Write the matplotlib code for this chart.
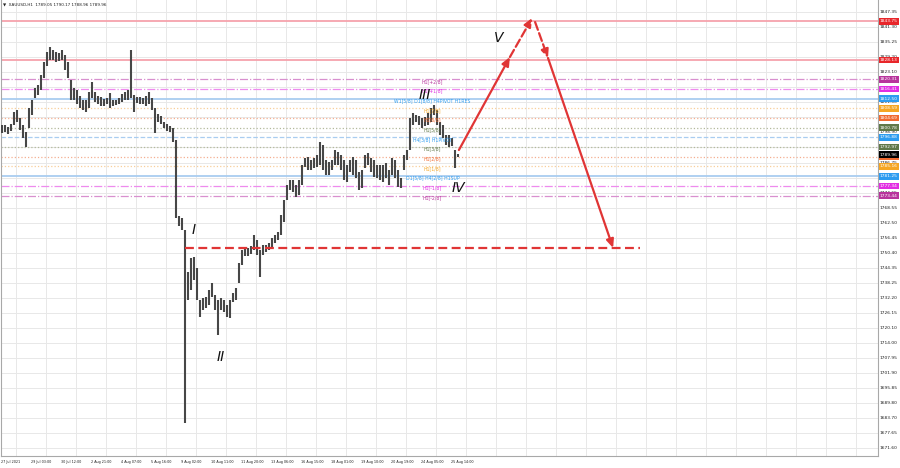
import matplotlib
matplotlib.use('Agg')
import matplotlib.pyplot as plt
import matplotlib.transforms as mtransforms

# one column ~ 3 px of the H1 chart (about 3 hourly bars)
highs = [1801.9, 1801.9, 1801.1, 1802.3, 1807.1, 1807.9, 1804.7, 1801.9, 1799.1, 1808.7,
         1812.0, 1816.8, 1818.0, 1822.1, 1827.3, 1831.3, 1833.3, 1832.1, 1831.3, 1830.9,
         1832.1, 1830.1, 1827.3, 1820.0, 1816.8, 1816.0, 1813.6, 1812.0, 1812.0, 1815.2,
         1819.2, 1815.2, 1813.6, 1813.2, 1812.4, 1812.8, 1814.8, 1812.0, 1812.0, 1812.8,
         1814.4, 1815.2, 1816.0, 1832.1, 1814.0, 1813.2, 1813.2, 1812.8, 1813.6, 1815.2,
         1812.8, 1808.7, 1806.3, 1805.5, 1803.1, 1802.3, 1801.5, 1800.7, 1795.8, 1765.2,
         1764.4, 1759.5, 1742.6, 1748.2, 1748.6, 1744.2, 1731.3, 1732.1, 1732.5, 1735.3,
         1738.2, 1733.3, 1731.3, 1732.1, 1731.3, 1729.3, 1731.3, 1734.1, 1736.1, 1746.2,
         1751.5, 1752.3, 1752.3, 1753.1, 1757.5, 1755.5, 1751.5, 1753.5, 1753.5, 1754.3,
         1756.3, 1757.5, 1758.7, 1765.6, 1771.6, 1777.7, 1779.7, 1779.7, 1777.7, 1779.7,
         1785.8, 1788.6, 1789.0, 1787.8, 1788.6, 1789.8, 1795.0, 1793.8, 1787.8, 1787.0,
         1787.8, 1791.8, 1791.0, 1789.8, 1787.8, 1785.8, 1787.8, 1789.0, 1787.8, 1782.9,
         1783.7, 1789.8, 1790.6, 1788.6, 1787.8, 1785.8, 1785.8, 1785.8, 1786.6, 1783.7,
         1788.6, 1787.8, 1783.7, 1780.5, 1789.8, 1791.8, 1804.7, 1806.7, 1805.9, 1805.5,
         1804.7, 1805.1, 1806.7, 1808.7, 1810.0, 1807.9, 1803.1, 1801.9, 1797.9, 1797.9,
         1796.6, 1791.8, 1790.2]
lows = [1798.7, 1799.1, 1798.3, 1799.5, 1801.9, 1803.1, 1799.9, 1796.6, 1793.0, 1800.7,
        1805.9, 1812.8, 1814.0, 1816.0, 1820.8, 1825.7, 1828.1, 1828.1, 1827.3, 1827.7,
        1828.1, 1824.1, 1820.8, 1812.0, 1812.0, 1810.4, 1808.7, 1807.9, 1807.1, 1808.7,
        1812.8, 1811.2, 1810.4, 1809.6, 1809.6, 1810.4, 1808.7, 1809.6, 1810.0, 1810.4,
        1811.2, 1812.0, 1812.0, 1812.8, 1807.1, 1810.8, 1810.4, 1810.4, 1809.6, 1810.4,
        1807.9, 1798.7, 1803.1, 1802.3, 1800.7, 1799.5, 1799.1, 1795.0, 1764.4, 1761.1,
        1759.5, 1681.7, 1731.3, 1735.3, 1739.4, 1731.3, 1724.4, 1727.3, 1728.1, 1729.3,
        1732.5, 1727.3, 1717.2, 1727.3, 1726.5, 1724.4, 1724.0, 1730.5, 1731.3, 1738.2,
        1745.4, 1749.1, 1749.1, 1749.9, 1751.5, 1749.5, 1740.6, 1749.5, 1750.7, 1751.5,
        1752.3, 1754.3, 1755.5, 1757.5, 1762.8, 1771.6, 1775.7, 1774.9, 1772.9, 1773.7,
        1777.7, 1785.0, 1783.7, 1783.7, 1784.5, 1785.0, 1785.8, 1783.7, 1781.7, 1781.7,
        1783.7, 1785.8, 1785.8, 1783.7, 1779.7, 1778.9, 1782.9, 1781.7, 1780.5, 1775.7,
        1776.5, 1784.5, 1785.8, 1782.9, 1780.9, 1780.5, 1779.7, 1778.9, 1780.5, 1777.7,
        1781.7, 1780.5, 1776.9, 1776.5, 1783.7, 1787.8, 1791.8, 1801.9, 1803.1, 1801.9,
        1800.7, 1801.5, 1801.9, 1803.1, 1805.9, 1801.9, 1797.9, 1796.6, 1793.8, 1793.0,
        1793.4, 1784.5, 1788.96]

date_labels = ['27 Jul 2021', '29 Jul 03:00', '30 Jul 12:00', '2 Aug 21:00', '4 Aug 07:00',
               '5 Aug 16:00', '9 Aug 02:00', '10 Aug 11:00', '11 Aug 20:00', '13 Aug 06:00',
               '16 Aug 15:00', '18 Aug 01:00', '19 Aug 10:00', '20 Aug 19:00', '24 Aug 05:00',
               '25 Aug 14:00']

price_ticks = [1847.35, 1841.30, 1835.25, 1829.20, 1823.10, 1817.05, 1811.00, 1804.95,
               1798.90, 1792.85, 1786.75, 1780.70, 1774.65, 1768.55, 1762.50, 1756.45,
               1750.40, 1744.35, 1738.25, 1732.20, 1726.15, 1720.10, 1714.00, 1707.95,
               1701.90, 1695.85, 1689.80, 1683.70, 1677.65, 1671.60]

level_prices = [1843.75, 1828.13, 1820.31, 1816.41, 1812.50, 1808.59, 1804.69, 1800.78,
                1796.88, 1792.97, 1789.06, 1785.16, 1781.25, 1777.34, 1773.44]
level_names = ['', '', 'H1[+2/8]', 'H1[+1/8]', 'W1[5/8] D1[8/8] H4PIVOT H1RES', 'H1[7/8]',
               'H1[6/8]', 'H1[5/8]', 'H4[3/8] H1PIVOT', 'H1[3/8]', 'H1[2/8]', 'H1[1/8]',
               'D1[5/8] H4[2/8] H1SUP', 'H1[-1/8]', 'H1[-2/8]']

last_price = 1789.96

# wave count and projection (column, price)
wave_labels = ['I', 'II', 'III', 'IV', 'V']
wave_x = [64, 73, 141, 152, 165.5]
wave_y = [1759.5, 1708.3, 1814.0, 1776.5, 1837.0]
proj_x = [152.3, 169.3, 176.7, 177.7, 182.0, 203.7]
proj_y = [1791.8, 1829.3, 1845.0, 1843.4, 1828.9, 1752.3]
target_price = 1752.3
target_x = [61, 212.7]

# styles
col_mag_dark = ('#d890cf', '#b8349c')
col_mag = ('#ee8bee', '#e22ee2')
col_blue = ('#a9cdf0', '#2d9cf0')
col_orange = ('#f8cf9a', '#f5a623')
col_red_or = ('#f4ae90', '#f06a30')
col_olive = ('#b3b99c', '#607848')
col_red = ('#f6a3ac', '#e8262a')
level_style = [(col_red, '-'), (col_red, '-'), (col_mag_dark, '-.'), (col_mag, '-.'),
               (col_blue, '-'), (col_orange, ':'), (col_red_or, ':'), (col_olive, ':'),
               (col_blue, '--'), (col_olive, ':'), (col_red_or, ':'), (col_orange, ':'),
               (col_blue, '-'), (col_mag, '-.'), (col_mag_dark, '-.')]

fig = plt.figure(figsize=(9, 4.68), dpi=100)
ax = fig.add_axes([1/900, 12/468, 877/900, 456/468])
ax.set_xlim(-1/3, 292)
ax.set_ylim(1668.4, 1852.3)
ax.set_xticks([])
ax.set_yticks([])
for s in ['left', 'right', 'bottom']:
    ax.spines[s].set_color('#a8a8a8')
    ax.spines[s].set_linewidth(0.8)
ax.spines['top'].set_visible(False)

# grid
for p in price_ticks:
    ax.axhline(p, color='#e8e8e8', lw=0.7, zorder=0)
for k in range(29):
    ax.axvline(4.67 + 10 * k, color='#e8e8e8', lw=0.7, zorder=0)

# levels
for p, name, (cols, ls) in zip(level_prices, level_names, level_style):
    lw = 1.3 if ls == '-' else 0.9
    ax.axhline(p, color=cols[0], ls=ls, lw=lw, zorder=1)
    if name:
        ax.text(143.5, p + 0.2, name, color=cols[1], fontsize=3.3, ha='center', va='top', zorder=4)

# candles
xs = list(range(len(highs)))
ax.vlines(xs, lows, highs, color='#474747', lw=1.5, zorder=3)

# target line and projection arrows
ax.plot(target_x, [target_price, target_price], color='#e03535', lw=1.6, ls=(0, (4, 2)), zorder=5)
segs = [(0, 1, '-'), (1, 2, '--'), (3, 4, '--'), (4, 5, '-')]
for a, b, ls in segs:
    ax.annotate('', xy=(proj_x[b], proj_y[b]), xytext=(proj_x[a], proj_y[a]),
                arrowprops=dict(arrowstyle='-|>,head_length=0.5,head_width=0.22', color='#e03535',
                                lw=1.6, ls=ls, shrinkA=0, shrinkB=0), zorder=5)

for t, x, y in zip(wave_labels, wave_x, wave_y):
    ax.text(x, y, t, fontsize=10, style='italic', ha='center', va='center', color='#111111', zorder=6)

# right price scale (labels hidden under a level box are not drawn)
box_prices = level_prices + [last_price]
box_colors = [c[1] for c, _ in level_style] + ['#000000']
off = mtransforms.offset_copy(ax.get_yaxis_transform(), fig=fig, x=2, y=0, units='dots')
for p in price_ticks:
    if min(abs(p - b) for b in box_prices) < 0.8:
        continue
    ax.text(1, p, '%.2f' % p, transform=off, fontsize=3.2, va='center', ha='left',
            color='#202020', clip_on=False, zorder=2)
for p, c in zip(box_prices, box_colors):
    ax.text(1, p, '%.2f' % p, transform=off, fontsize=3.2, va='center', ha='left', color='white',
            clip_on=False, zorder=7,
            bbox=dict(boxstyle='square,pad=0.3', fc=c, ec='none'))

# time scale
offx = mtransforms.offset_copy(ax.get_xaxis_transform(), fig=fig, x=0, y=-4, units='dots')
for k, lab in enumerate(date_labels):
    ax.text(10 * k - 0.3, 0, lab, transform=offx, fontsize=2.4, ha='left', va='top',
            color='#202020', clip_on=False)

fig.text(3/900, 1 - 5/468, '\u25bc  XAUUSD,H1  1789.05 1790.17 1788.96 1789.96', fontsize=3.0,
         va='center', ha='left', color='#202020')

fig.savefig('out.png', dpi=100, facecolor='white')
